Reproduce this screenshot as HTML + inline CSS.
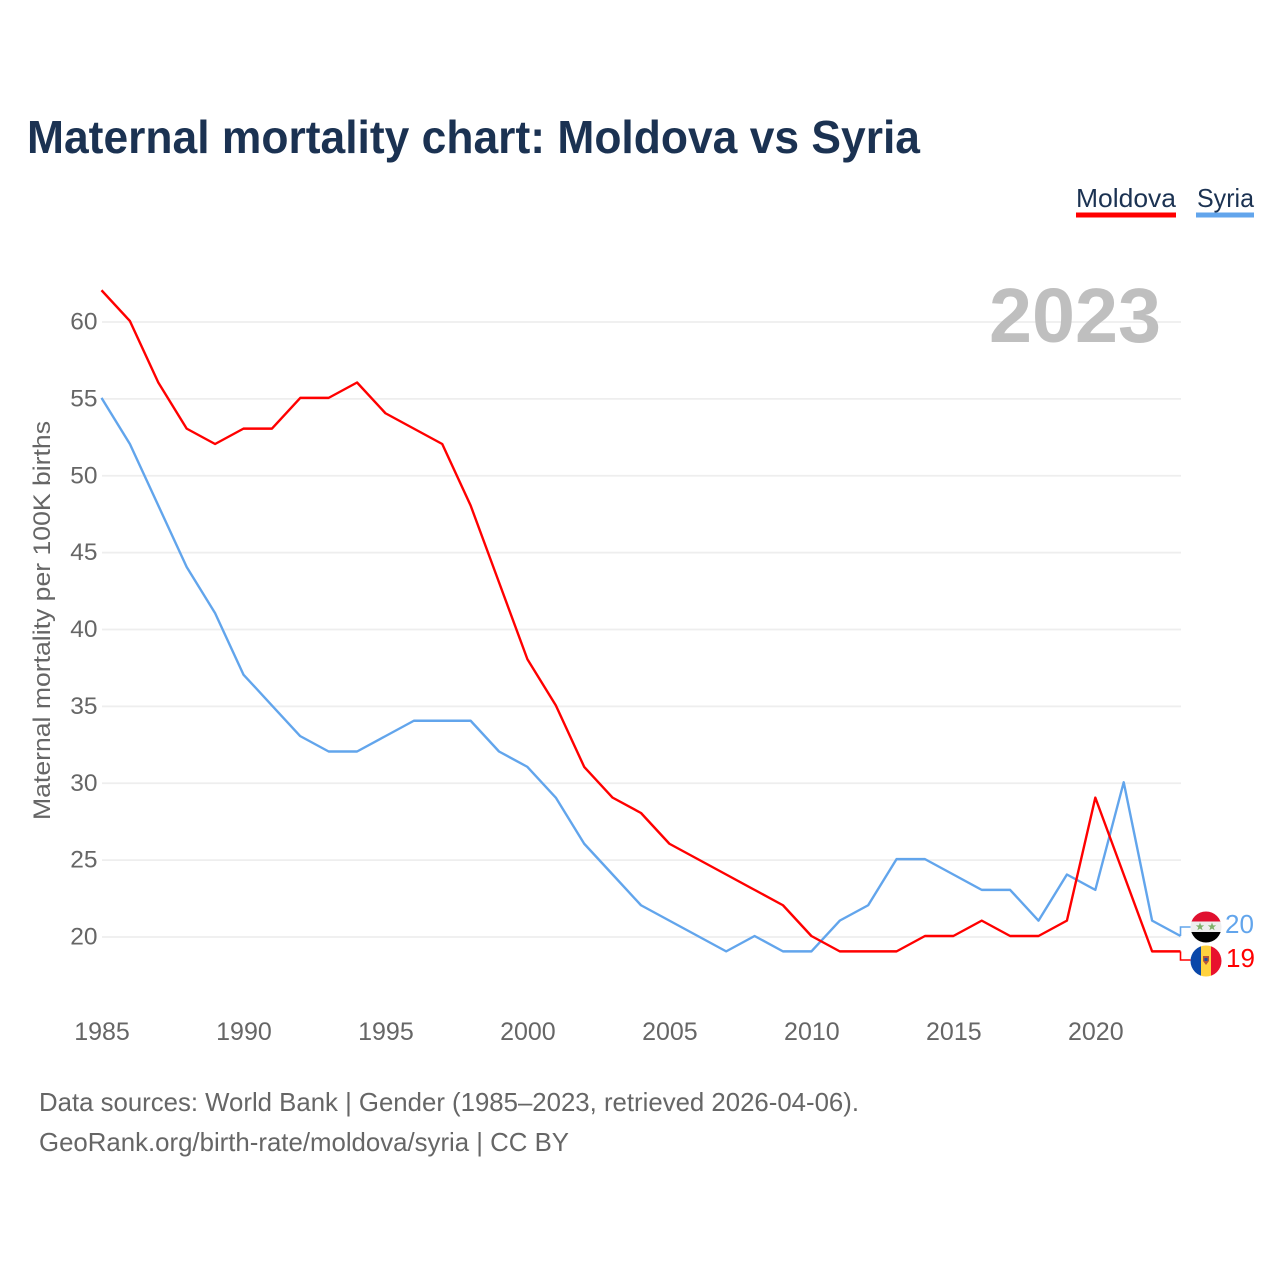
<!DOCTYPE html>
<html lang="en">
<head>
<meta charset="utf-8">
<title>Maternal mortality chart: Moldova vs Syria</title>
<style>
html,body{margin:0;padding:0;background:#fff;width:1280px;height:1280px;overflow:hidden}
svg{display:block}
text{font-family:"Liberation Sans",sans-serif}
</style>
</head>
<body>
<svg id="chart" xmlns="http://www.w3.org/2000/svg" width="1280" height="1280" viewBox="0 0 1280 1280">
  <rect width="1280" height="1280" fill="#fff"/>
  <text x="27" y="153" font-size="46" font-weight="700" fill="#1b3252" textLength="893" lengthAdjust="spacingAndGlyphs">Maternal mortality chart: Moldova vs Syria</text>

  <g>
    <g>
      <text x="1076" y="207" font-size="26" fill="#1b3252" textLength="100" lengthAdjust="spacingAndGlyphs">Moldova</text>
      <rect x="1076" y="212.500" width="100" height="5" fill="#ff0000"/>
    </g>
    <g>
      <text x="1197" y="207" font-size="26" fill="#1b3252" textLength="57" lengthAdjust="spacingAndGlyphs">Syria</text>
      <rect x="1196" y="212.500" width="58" height="5" fill="#62a5ec"/>
    </g>
  </g>

  <g id="grid"></g>
  <g id="yticks"></g>
  <g id="xticks"></g>

  <text transform="translate(50 620.500) rotate(-90)" text-anchor="middle" font-size="24" fill="#666" textLength="399" lengthAdjust="spacingAndGlyphs">Maternal mortality per 100K births</text>
  <text x="989" y="342" font-size="77" font-weight="700" fill="#bfbfbf" textLength="172" lengthAdjust="spacingAndGlyphs">2023</text>

  <g id="series" transform="translate(-0.5 -1)"></g>

  <g>
    <clipPath id="clip-syria"><circle cx="1206" cy="927" r="15.500"/></clipPath>
    <g clip-path="url(#clip-syria)">
      <rect x="1190" y="911" width="32" height="10.500" fill="#e0102f"/>
      <rect x="1190" y="921.500" width="32" height="10.500" fill="#eeeeee"/>
      <rect x="1190" y="932" width="32" height="11" fill="#000"/>
      <polygon points="1200,922.500 1201.100,925.400 1204.200,925.400 1201.700,927.300 1202.600,930.300 1200,928.500 1197.400,930.300 1198.300,927.300 1195.800,925.400 1198.900,925.400" fill="#7fb069"/>
      <polygon points="1212,922.500 1213.100,925.400 1216.200,925.400 1213.700,927.300 1214.600,930.300 1212,928.500 1209.400,930.300 1210.300,927.300 1207.800,925.400 1210.900,925.400" fill="#7fb069"/>
    </g>
  </g>
  <g>
    <clipPath id="clip-moldova"><circle cx="1206" cy="961" r="15.500"/></clipPath>
    <g clip-path="url(#clip-moldova)">
      <rect x="1190" y="945" width="11" height="32" fill="#0a47a9"/>
      <rect x="1201" y="945" width="10" height="32" fill="#ffd23f"/>
      <rect x="1211" y="945" width="11" height="32" fill="#e8112d"/>
      <polygon points="1203,956 1209,956 1209,961 1206,965 1203,961" fill="#b5563a"/>
      <rect x="1204.500" y="958" width="3" height="3" fill="#1c4fa0"/>
    </g>
  </g>

  <text id="end-syria" x="1225" y="933" font-size="26" fill="#62a5ec"></text>
  <text id="end-moldova" x="1226" y="967" font-size="26" fill="#ff0000"></text>

  <g>
    <text x="39" y="1111" font-size="26" fill="#666" textLength="820" lengthAdjust="spacingAndGlyphs">Data sources: World Bank | Gender (1985–2023, retrieved 2026-04-06).</text>
    <text x="39" y="1151" font-size="26" fill="#666" textLength="530" lengthAdjust="spacingAndGlyphs">GeoRank.org/birth-rate/moldova/syria | CC BY</text>
  </g>
</svg>
<script>
const years = [1985,1986,1987,1988,1989,1990,1991,1992,1993,1994,1995,1996,1997,1998,1999,2000,2001,2002,2003,2004,2005,2006,2007,2008,2009,2010,2011,2012,2013,2014,2015,2016,2017,2018,2019,2020,2021,2022,2023];
const moldovaValues = [62,60,56,53,52,53,53,55,55,56,54,53,52,48,43,38,35,31,29,28,26,25,24,23,22,20,19,19,19,20,20,21,20,20,21,29,24,19,19];
const syriaValues = [55,52,48,44,41,37,35,33,32,32,33,34,34,34,32,31,29,26,24,22,21,20,19,20,19,19,21,22,25,25,24,23,23,21,24,23,30,21,20];
const yTickLabels = [20,25,30,35,40,45,50,55,60];
const xTickLabels = [1985,1990,1995,2000,2005,2010,2015,2020];

const NS = 'http://www.w3.org/2000/svg';
function xScale(year) { return 102 + (year - 1985) * (1181 - 102) / 38; }
function yScale(value) { return 937 - (value - 20) * (937 - 322) / 40; }
function make(tag, parent, attrs) {
  const el = document.createElementNS(NS, tag);
  for (const k in attrs) el.setAttribute(k, attrs[k]);
  parent.appendChild(el);
  return el;
}

const grid = document.getElementById('grid');
const yticks = document.getElementById('yticks');
const xticks = document.getElementById('xticks');
const series = document.getElementById('series');

yTickLabels.forEach(function (v) {
  const line = make('line', grid, {x1: 102, x2: 1181, y1: yScale(v), y2: yScale(v), stroke: '#eeeeee', 'stroke-width': 1.700});
  
  
  const t = make('text', yticks, {x: 97.500, y: yScale(v) + 7.500, 'text-anchor': 'end', 'font-size': 24.500, fill: '#666'});
  t.textContent = v;
  
  
});

xTickLabels.forEach(function (yr) {
  const t = make('text', xticks, {x: xScale(yr), y: 1040, 'text-anchor': 'middle', 'font-size': 25, fill: '#666'});
  t.textContent = yr;
  
  
});

function linePoints(values) {
  return values.map(function (v, i) { return xScale(years[i]).toFixed(2) + ',' + yScale(v).toFixed(2); }).join(' ');
}

const syriaLine = make('polyline', series, {points: linePoints(syriaValues), fill: 'none', stroke: '#62a5ec', 'stroke-width': 2.400, 'stroke-linejoin': 'round'});



const moldovaLine = make('polyline', series, {points: linePoints(moldovaValues), fill: 'none', stroke: '#ff0000', 'stroke-width': 2.400, 'stroke-linejoin': 'round'});



const lastX = xScale(years[years.length - 1]);
const syriaLast = syriaValues[syriaValues.length - 1];
const moldovaLast = moldovaValues[moldovaValues.length - 1];

const syriaConnector = make('polyline', series, {points: lastX + ',' + yScale(syriaLast) + ' ' + lastX + ',928 1191,928', fill: 'none', stroke: '#62a5ec', 'stroke-width': 1.600});



const moldovaConnector = make('polyline', series, {points: lastX + ',' + yScale(moldovaLast) + ' ' + lastX + ',961 1191,961', fill: 'none', stroke: '#ff0000', 'stroke-width': 1.600});



document.getElementById('end-syria').textContent = syriaLast;
document.getElementById('end-moldova').textContent = moldovaLast;
</script>
</body>
</html>
